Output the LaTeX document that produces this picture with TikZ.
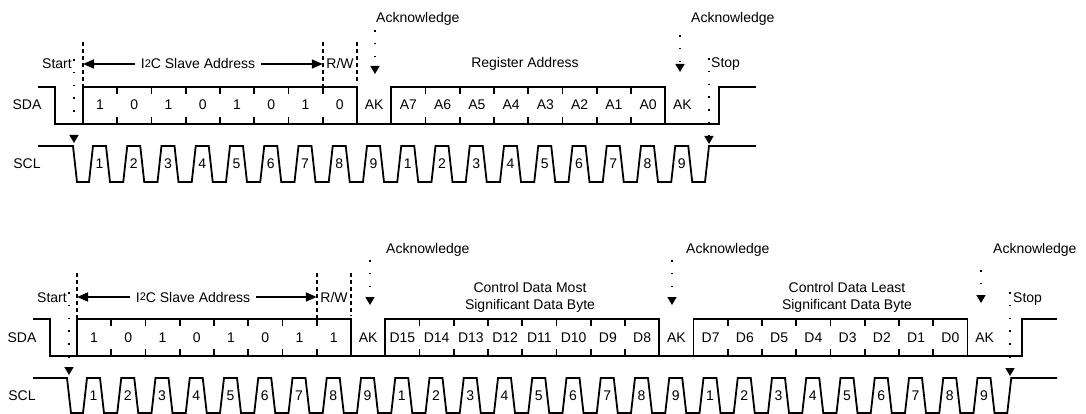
\documentclass[tikz,border=0pt]{standalone}
\usepackage{fontspec}
\setmainfont{Liberation Sans}
\usetikzlibrary{arrows.meta}

\newcommand{\iic}{I\raisebox{1.6pt}{\fontsize{11}{11}\selectfont 2}C}
\def\pitch{34.25}

\begin{document}
\begin{tikzpicture}[x=1pt,y=-1pt,
  sig/.style={line width=1.8pt},
  tck/.style={line width=1.7pt},
  lbl/.style={font=\fontsize{14}{17}\selectfont,inner sep=0pt},
  dotln/.style={line width=1.5pt,dash pattern=on 1.5pt off 11.3pt},
  dashln/.style={line width=1.6pt,dash pattern=on 4pt off 3pt},
  ackarr/.style={dotln,-{Triangle[width=9pt,length=8pt]}},
  addrarr/.style={line width=1.7pt,-{Triangle[width=9pt,length=11pt]}}]
\useasboundingbox (0,0) rectangle (1086,414);

%% frame 1: address + register address
\node[lbl,anchor=base] (sdaA) at (27,110) {SDA};
\node[lbl,anchor=base] (sclA) at (27,168) {SCL};
\draw[sig] (38,87) -- (55,87) -- (55,124) -- (719,124) -- (719,87) -- (756,87);
\foreach \b in {0,9} {
  \draw[sig] ({83+\b*\pitch},124) |- ({83+(\b+8)*\pitch},87) -- ({83+(\b+8)*\pitch},124);
  \foreach \k in {1,...,7}
    \draw[tck] ({83+(\b+\k)*\pitch},87) -- ++(0,7) ({83+(\b+\k)*\pitch},124) -- ++(0,-7);
}
\foreach \t [count=\i from 0] in {1,0,1,0,1,0,1,0,AK,A7,A6,A5,A4,A3,A2,A1,A0,AK}
  \node[lbl,anchor=base] (bitA\i) at ({83+(\i+0.5)*\pitch},110) {\t};
\draw[sig] (38,146) -- (73,146) -- (77,182)
  \foreach \n in {0,...,17} { -- ({89+\n*\pitch},182) -- ++(4,-36) -- ++(13,0) -- ++(4,36) }
  -- ({83+18*\pitch+5.5},182) -- ++(4,-36) -- (756,146);
\foreach \n in {0,...,17} {
  \pgfmathtruncatemacro\clk{mod(\n,9)+1}
  \node[lbl,anchor=base] (clkA\n) at ({99.5+\n*\pitch},168) {\clk};
}
\node[lbl,anchor=base east] (startA) at (72,69) {Start};
\node[lbl,anchor=base,inner xsep=6pt] (addrA) at (198,69) {\iic{} Slave Address};
\node[lbl,anchor=base] (rwA) at (340,69) {R/W};
\node[lbl,anchor=base] (regA) at (525,68) {Register Address};
\node[lbl,anchor=base west] (stopA) at (711,68) {Stop};
\node[lbl,anchor=base west] (ackA1) at (376,23) {Acknowledge};
\node[lbl,anchor=base west] (ackA2) at (691,23) {Acknowledge};
\coordinate (fstA) at (83,42);
\coordinate (rwlA) at ({83+7*\pitch},42);
\coordinate (rwrA) at ({83+8*\pitch},42);
\draw[dashln] (fstA) -- ++(0,45);
\draw[dashln] (rwlA) -- ++(0,45);
\draw[dashln] (rwrA) -- ++(0,42);
\draw[addrarr] (addrA.west) -- (addrA.west -| fstA);
\draw[addrarr] (addrA.east) -- (addrA.east -| rwlA);
\coordinate (stA) at (74,143);
\coordinate (spA) at (709,144);
\coordinate (akA1) at (375,74);
\coordinate (akA2) at (680,72);
\draw[ackarr] (stA |- startA.north) -- (stA);
\draw[ackarr] (spA |- stopA.north) -- (spA);
\draw[ackarr] (akA1 |- ackA1.south) ++(0,4) -- (akA1);
\draw[ackarr] (akA2 |- ackA2.south) ++(0,9) -- (akA2);

%% frame 2: address + control data
\node[lbl,anchor=base] (sdaB) at (22,342) {SDA};
\node[lbl,anchor=base] (sclB) at (22,400) {SCL};
\draw[sig] (33,319) -- (50,319) -- (50,356) -- (1022,356) -- (1022,319) -- (1057,319);
\foreach \b in {0,9,18} {
  \draw[sig] ({77+\b*\pitch},356) |- ({77+(\b+8)*\pitch},319) -- ({77+(\b+8)*\pitch},356);
  \foreach \k in {1,...,7}
    \draw[tck] ({77+(\b+\k)*\pitch},319) -- ++(0,7) ({77+(\b+\k)*\pitch},356) -- ++(0,-7);
}
\foreach \t [count=\i from 0] in {1,0,1,0,1,0,1,1,AK,D15,D14,D13,D12,D11,D10,D9,D8,AK,D7,D6,D5,D4,D3,D2,D1,D0,AK}
  \node[lbl,anchor=base] (bitB\i) at ({77+(\i+0.5)*\pitch},342) {\t};
\draw[sig] (33,378) -- (67,378) -- (71,413)
  \foreach \n in {0,...,26} { -- ({83+\n*\pitch},413) -- ++(4,-35) -- ++(13,0) -- ++(4,35) }
  -- ({77+27*\pitch+5.5},413) -- ++(4,-35) -- (1057,378);
\foreach \n in {0,...,26} {
  \pgfmathtruncatemacro\clk{mod(\n,9)+1}
  \node[lbl,anchor=base] (clkB\n) at ({93.5+\n*\pitch},400) {\clk};
}
\node[lbl,anchor=base east] (startB) at (67,302) {Start};
\node[lbl,anchor=base,inner xsep=6pt] (addrB) at (193,302) {\iic{} Slave Address};
\node[lbl,anchor=base] (rwB) at (334,302) {R/W};
\node[lbl,align=center] (msbB) at (530,297) {Control Data Most\\Significant Data Byte};
\node[lbl,align=center] (lsbB) at (847,297) {Control Data Least\\Significant Data Byte};
\node[lbl,anchor=base west] (stopB) at (1013,302) {Stop};
\node[lbl,anchor=base west] (ackB1) at (386,253) {Acknowledge};
\node[lbl,anchor=base west] (ackB2) at (686,253) {Acknowledge};
\node[lbl,anchor=base west] (ackB3) at (993,253) {Acknowledge};
\coordinate (fstB) at (77,273);
\coordinate (rwlB) at ({77+7*\pitch},273);
\coordinate (rwrB) at ({77+8*\pitch},273);
\draw[dashln] (fstB) -- ++(0,46);
\draw[dashln] (rwlB) -- ++(0,46);
\draw[dashln] (rwrB) -- ++(0,43);
\draw[addrarr] (addrB.west) -- (addrB.west -| fstB);
\draw[addrarr] (addrB.east) -- (addrB.east -| rwlB);
\coordinate (stB) at (69,375);
\coordinate (spB) at (1010,376);
\coordinate (akB1) at (370,305);
\coordinate (akB2) at (672,305);
\coordinate (akB3) at (981,303);
\draw[ackarr] (stB |- startB.north) -- (stB);
\draw[ackarr] (spB |- stopB.north) -- (spB);
\draw[ackarr] (akB1 |- ackB1.south) ++(0,4) -- (akB1);
\draw[ackarr] (akB2 |- ackB2.south) ++(0,4) -- (akB2);
\draw[ackarr] (akB3 |- ackB3.south) ++(0,14) -- (akB3);
\end{tikzpicture}
\end{document}
